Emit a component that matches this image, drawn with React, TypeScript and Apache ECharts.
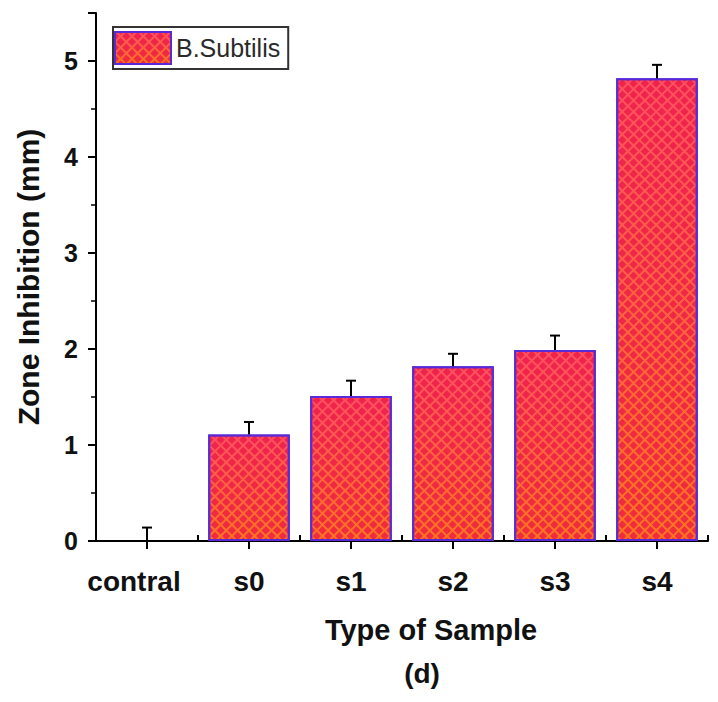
import React, { useEffect, useRef } from "react";
import * as echarts from "echarts";

const categories = ["contral", "s0", "s1", "s2", "s3", "s4"];
const zoneValues = [0, 1.11, 1.51, 1.82, 1.99, 4.82];
const zoneErrors = [0.14, 0.13, 0.16, 0.13, 0.15, 0.14];
const seriesName = "B.Subtilis";
const yMin = 0;
const yMax = 5.5;
const yInterval = 1;

const FONT = "'Liberation Sans', Arial, sans-serif";

export default function App() {
  const ref = useRef<HTMLDivElement>(null);

  useEffect(() => {
    if (!ref.current) return;
    const chart = echarts.init(ref.current, undefined, { renderer: "svg" });

    const barData = zoneValues.map((v) =>
      v === 0 ? { value: v, itemStyle: { borderWidth: 0 } } : v
    );
    const errData = categories.map((_, i) => [i, zoneValues[i], zoneErrors[i]]);

    const option: any = {
      animation: false,
      backgroundColor: "#ffffff",
      textStyle: { fontFamily: FONT },
      grid: { left: 96, right: 10, top: 13, bottom: 161, containLabel: false },
      legend: {
        left: 113,
        top: 27,
        padding: [4, 8, 4, 1],
        itemWidth: 56,
        itemHeight: 32,
        icon: "rect",
        borderColor: "#333",
        borderWidth: 2,
        selectedMode: false,
        data: [seriesName],
        textStyle: { fontSize: 25, color: "#2a2a2a", fontFamily: FONT },
      },
      xAxis: [
        {
          type: "category",
          data: categories,
          position: "bottom",
          axisLine: { show: true, lineStyle: { color: "#000", width: 2 } },
          axisTick: { show: true, alignWithLabel: true, length: 8, lineStyle: { color: "#000", width: 2 } },
          axisLabel: {
            interval: 0,
            fontSize: 28,
            fontWeight: "bold",
            color: "#111",
            margin: 26,
            fontFamily: FONT,
            formatter: (v: string) => (v === categories[0] ? `{c|${v}}` : v),
            rich: {
              c: { fontSize: 28, fontWeight: "bold", color: "#111", fontFamily: FONT, padding: [0, 26, 0, 0] },
            },
          },
          splitLine: { show: false },
        },
        {
          type: "category",
          data: categories,
          position: "bottom",
          axisLine: { show: false },
          axisTick: { show: true, inside: true, length: 6, interval: 0, lineStyle: { color: "#000", width: 2 } },
          axisLabel: { show: false },
          splitLine: { show: false },
        },
      ],
      yAxis: {
        type: "value",
        min: yMin,
        max: yMax,
        interval: yInterval,
        name: "Zone Inhibition (mm)",
        nameLocation: "middle",
        nameGap: 53,
        nameTextStyle: { fontSize: 30, fontWeight: "bold", color: "#111", fontFamily: FONT },
        axisLine: { show: true, lineStyle: { color: "#000", width: 2 } },
        axisTick: { show: true, length: 8, lineStyle: { color: "#000", width: 2 } },
        minorTick: { show: true, splitNumber: 2, length: 5, lineStyle: { color: "#000", width: 1.5 } },
        splitLine: { show: false },
        minorSplitLine: { show: false },
        axisLabel: { showMaxLabel: false, fontSize: 25, fontWeight: "bold", color: "#111", margin: 18, fontFamily: FONT },
      },
      series: [
        {
          type: "bar",
          name: seriesName,
          data: barData,
          barWidth: "80%",
          itemStyle: {
            color: new echarts.graphic.LinearGradient(0, 0, 0, 1, [
              { offset: 0, color: "#ff5060" },
              { offset: 1, color: "#ff7420" },
            ]),
            borderColor: "#5a2ad8",
            borderWidth: 2,
            decal: {
              symbol: "rect",
              symbolSize: 1,
              color: "rgba(235, 20, 70, 0.75)",
              dashArrayX: [5.5, 1.8],
              dashArrayY: [5.5, 1.8],
              rotation: Math.PI / 4,
            },
          },
          z: 2,
        },
        {
          type: "custom",
          name: "error",
          data: errData,
          encode: { x: 0, y: 1 },
          z: 5,
          renderItem: (params: any, api: any) => {
            const idx = api.value(0);
            const v = api.value(1);
            const e = api.value(2);
            const base = api.coord([idx, v]);
            const top = api.coord([idx, v + e]);
            const capHalf = 5;
            const style = { stroke: "#000", lineWidth: 2 };
            return {
              type: "group",
              children: [
                { type: "line", shape: { x1: base[0], y1: base[1], x2: top[0], y2: top[1] }, style },
                { type: "line", shape: { x1: top[0] - capHalf, y1: top[1], x2: top[0] + capHalf, y2: top[1] }, style },
              ],
            };
          },
        },
      ],
      graphic: [
        {
          type: "text",
          x: 431,
          y: 630,
          style: { text: "Type of Sample", fontSize: 29, fontWeight: "bold", fill: "#111", align: "center", verticalAlign: "middle", fontFamily: FONT },
        },
        {
          type: "text",
          x: 422,
          y: 673,
          style: { text: "(d)", fontSize: 28, fontWeight: "bold", fill: "#111", align: "center", verticalAlign: "middle", fontFamily: FONT },
        },
      ],
    };

    chart.setOption(option);
    return () => chart.dispose();
  }, []);

  return (
    <div
      ref={ref}
      style={{ position: "fixed", left: 0, top: 0, width: 718, height: 702, background: "#fff" }}
    />
  );
}
